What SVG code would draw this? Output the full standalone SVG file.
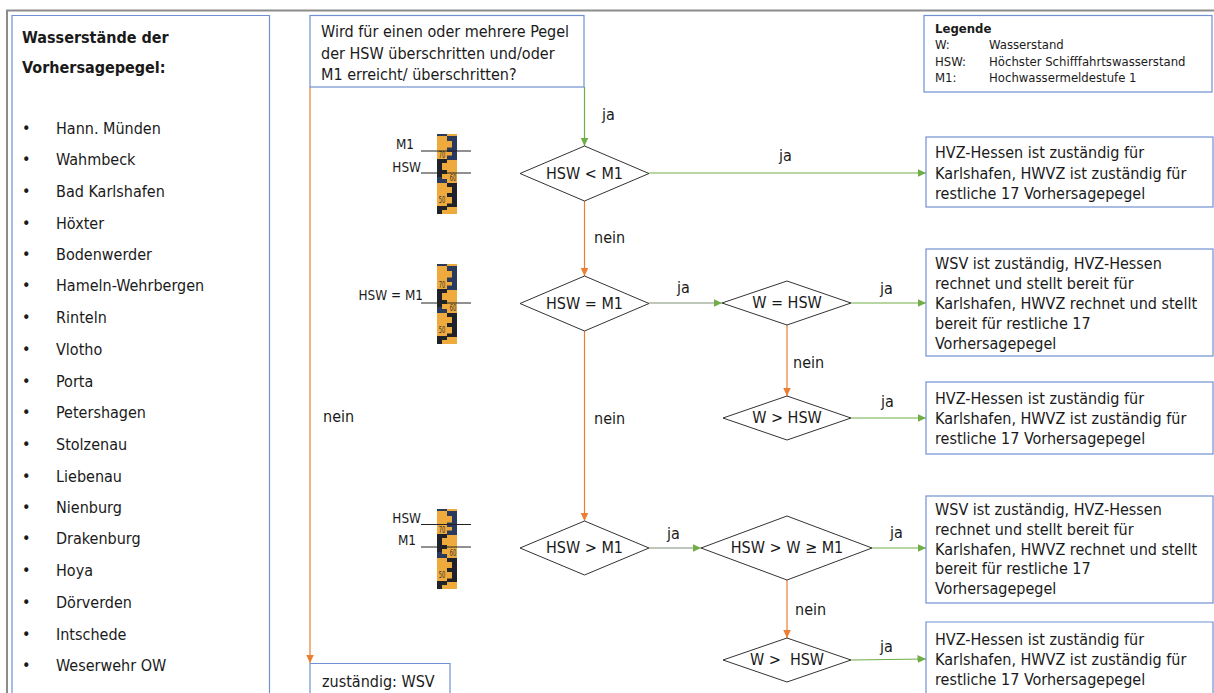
<svg xmlns="http://www.w3.org/2000/svg" width="1214" height="693" viewBox="0 0 1214 693">
<style>
text{font-family:"DejaVu Sans","Liberation Sans",sans-serif;fill:#1a1a1a;font-stretch:condensed}
.t{font-size:16px;transform:translateY(1px)}
.l{font-size:13px}
.lb{font-size:13.400px}
.b{font-weight:bold}
.box{fill:#fff;stroke:#6f90d2;stroke-width:1.2}
.dia{fill:#fff;stroke:#333;stroke-width:1}
.c{fill:none;stroke-width:1.2}
.g{stroke:#70ad47}
.o{stroke:#ed7d31}
.n{stroke:#7f8f76}
.m{text-anchor:middle}
.e{text-anchor:end}
.rule{stroke:#222;stroke-width:1}
.tick{font-size:9px;fill:#333;text-anchor:middle}
</style>
<defs>
<marker id="ag" markerUnits="userSpaceOnUse" markerWidth="9" markerHeight="9" refX="8.5" refY="4.5" orient="auto"><path d="M0,0.5L8.5,4.5L0,8.5z" fill="#70ad47"/></marker>
<marker id="ao" markerUnits="userSpaceOnUse" markerWidth="9" markerHeight="9" refX="8.5" refY="4.5" orient="auto"><path d="M0,0.5L8.5,4.5L0,8.5z" fill="#ed7d31"/></marker>
<g id="gauge">
<rect width="20" height="80" fill="#eeaa3c"/>
<path d="M0,0H10V2H0zM10,2H20V26H10V21.500H15V18H10V13.500H15V7H10z" fill="#2a3a5c"/>
<path d="M0,25H10V29H5V36H10V40H5V43H0z" fill="#1f2228"/>
<path d="M0,43H5V45H10V49H0z" fill="#2a3a5c"/>
<path d="M10,49H20V73H10V69.500H15V63H10V59H15V53H10z" fill="#1f2228"/>
<path d="M0,72H10V76H5V80H0z" fill="#1f2228"/>
<text class="tick" x="5" y="23.500" textLength="6.500" lengthAdjust="spacingAndGlyphs">70</text>
<text class="tick" x="16" y="46.500" textLength="6.500" lengthAdjust="spacingAndGlyphs">60</text>
<text class="tick" x="5" y="69" textLength="6.500" lengthAdjust="spacingAndGlyphs">50</text>
</g>
</defs>
<path d="M7,693V10.500H1214" fill="none" stroke="#8c8c8c" stroke-width="2"/>

<g id="connectors">
<path class="c g" d="M584.500,87V146" marker-end="url(#ag)"/>
<path class="c g" d="M649,173H926" marker-end="url(#ag)"/>
<path class="c n" d="M649,303H722" marker-end="url(#ag)"/>
<path class="c g" d="M851,303H926" marker-end="url(#ag)"/>
<path class="c g" d="M851,418H926" marker-end="url(#ag)"/>
<path class="c n" d="M649,548H701" marker-end="url(#ag)"/>
<path class="c g" d="M872,548H926" marker-end="url(#ag)"/>
<path class="c g" d="M851,660L926,659" marker-end="url(#ag)"/>
<path class="c o" d="M584.500,201V276" marker-end="url(#ao)"/>
<path class="c o" d="M584.500,331V521" marker-end="url(#ao)"/>
<path class="c o" d="M787,325V396" marker-end="url(#ao)"/>
<path class="c o" d="M787,580V638" marker-end="url(#ao)"/>
<path class="c o" d="M310,87V663" marker-end="url(#ao)"/>
</g>

<g id="pegel-liste">
<path class="box" d="M12,700V15.500H269.500V700"/>
<text class="b" font-size="16" x="22" y="43">Wasserstände der</text>
<text class="b" font-size="16" x="22" y="73">Vorhersagepegel:</text>
<g class="t">
<text x="22" y="133">•</text><text x="56" y="133">Hann. Münden</text>
<text x="22" y="164">•</text><text x="56" y="164">Wahmbeck</text>
<text x="22" y="196">•</text><text x="56" y="196">Bad Karlshafen</text>
<text x="22" y="228">•</text><text x="56" y="228">Höxter</text>
<text x="22" y="259">•</text><text x="56" y="259">Bodenwerder</text>
<text x="22" y="290">•</text><text x="56" y="290">Hameln-Wehrbergen</text>
<text x="22" y="322">•</text><text x="56" y="322">Rinteln</text>
<text x="22" y="354">•</text><text x="56" y="354">Vlotho</text>
<text x="22" y="386">•</text><text x="56" y="386">Porta</text>
<text x="22" y="417">•</text><text x="56" y="417">Petershagen</text>
<text x="22" y="449">•</text><text x="56" y="449">Stolzenau</text>
<text x="22" y="481">•</text><text x="56" y="481">Liebenau</text>
<text x="22" y="512">•</text><text x="56" y="512">Nienburg</text>
<text x="22" y="543">•</text><text x="56" y="543">Drakenburg</text>
<text x="22" y="575">•</text><text x="56" y="575">Hoya</text>
<text x="22" y="607">•</text><text x="56" y="607">Dörverden</text>
<text x="22" y="639">•</text><text x="56" y="639">Intschede</text>
<text x="22" y="670">•</text><text x="56" y="670">Weserwehr OW</text>
</g>
</g>

<g id="frage">
<rect class="box" x="310" y="15.500" width="274" height="71.500"/>
<text class="t" x="321" y="36">Wird für einen oder mehrere Pegel</text>
<text class="t" x="321" y="58">der HSW überschritten und/oder</text>
<text class="t" x="321" y="79">M1 erreicht/ überschritten?</text>
</g>

<g id="legende">
<rect class="box" x="924" y="15.500" width="288" height="76.500"/>
<text class="l b" x="935" y="33">Legende</text>
<text class="l" x="935" y="49">W:</text><text class="l" x="989" y="49">Wasserstand</text>
<text class="l" x="935" y="66">HSW:</text><text class="l" x="989" y="66">Höchster Schifffahrtswasserstand</text>
<text class="l" x="935" y="82">M1:</text><text class="l" x="989" y="82">Hochwassermeldestufe 1</text>
</g>

<g id="zustaendig-wsv">
<path class="box" d="M310,700V663.500H450V700"/>
<text class="t" x="322" y="686">zuständig: WSV</text>
</g>

<g id="gauge-1">
<use href="#gauge" x="437" y="134"/>
<path class="rule" d="M421,151H471M421,173H471"/>
<text class="lb e" x="414" y="149">M1</text>
<text class="lb e" x="421" y="172">HSW</text>
</g>
<g id="gauge-2">
<use href="#gauge" x="437" y="264"/>
<path class="rule" d="M421,303H471"/>
<text class="lb e" x="423" y="300">HSW = M1</text>
</g>
<g id="gauge-3">
<use href="#gauge" x="437" y="509"/>
<path class="rule" d="M421,524.500H471M421,547H471"/>
<text class="lb e" x="421" y="523">HSW</text>
<text class="lb e" x="416" y="545">M1</text>
</g>

<g id="d-hsw-lt-m1"><path class="dia" d="M584.500,146L649,173.500L584.500,201L520,173.500z"/><text class="t m" x="584.500" y="178">HSW &lt; M1</text></g>
<g id="d-hsw-eq-m1"><path class="dia" d="M584.500,276L649,303.500L584.500,331L520,303.500z"/><text class="t m" x="584.500" y="308">HSW = M1</text></g>
<g id="d-w-eq-hsw"><path class="dia" d="M787,281L851,303L787,325L722,303z"/><text class="t m" x="787" y="307">W = HSW</text></g>
<g id="d-w-gt-hsw"><path class="dia" d="M787,396L851,418L787,440L723,418z"/><text class="t m" x="787" y="422">W &gt; HSW</text></g>
<g id="d-hsw-gt-m1"><path class="dia" d="M584.500,521L649,548L584.500,575L520,548z"/><text class="t m" x="584.500" y="552">HSW &gt; M1</text></g>
<g id="d-hsw-gt-w-m1"><path class="dia" d="M787,516L872,548L787,580L701,548z"/><text class="t m" x="787" y="552">HSW &gt; W ≥ M1</text></g>
<g id="d-w-gt-hsw-2"><path class="dia" d="M787,638L851,660L787,682L723,660z"/><text class="t m" x="787" y="664" xml:space="preserve">W &gt;  HSW</text></g>

<g id="r1"><rect class="box" x="926" y="137" width="287" height="70"/>
<text class="t" x="935" y="157">HVZ-Hessen ist zuständig für</text><text class="t" x="935" y="178">Karlshafen, HWVZ ist zuständig für</text><text class="t" x="935" y="198">restliche 17 Vorhersagepegel</text></g>
<g id="r2"><rect class="box" x="926" y="249" width="287" height="107"/>
<text class="t" x="935" y="268">WSV ist zuständig, HVZ-Hessen</text><text class="t" x="935" y="288">rechnet und stellt bereit für</text><text class="t" x="935" y="308">Karlshafen, HWVZ rechnet und stellt</text><text class="t" x="935" y="328">bereit für restliche 17</text><text class="t" x="935" y="348">Vorhersagepegel</text></g>
<g id="r3"><rect class="box" x="926" y="382" width="287" height="72"/>
<text class="t" x="935" y="403">HVZ-Hessen ist zuständig für</text><text class="t" x="935" y="423">Karlshafen, HWVZ ist zuständig für</text><text class="t" x="935" y="443">restliche 17 Vorhersagepegel</text></g>
<g id="r4"><rect class="box" x="926" y="496" width="287" height="107"/>
<text class="t" x="935" y="514">WSV ist zuständig, HVZ-Hessen</text><text class="t" x="935" y="534">rechnet und stellt bereit für</text><text class="t" x="935" y="554">Karlshafen, HWVZ rechnet und stellt</text><text class="t" x="935" y="573">bereit für restliche 17</text><text class="t" x="935" y="593">Vorhersagepegel</text></g>
<g id="r5"><path class="box" d="M926,700V622H1213V700"/>
<text class="t" x="935" y="644">HVZ-Hessen ist zuständig für</text><text class="t" x="935" y="664">Karlshafen, HWVZ ist zuständig für</text><text class="t" x="935" y="684">restliche 17 Vorhersagepegel</text></g>

<g id="labels">
<text class="t" x="602" y="119">ja</text>
<text class="t" x="779" y="160">ja</text>
<text class="t" x="594" y="242">nein</text>
<text class="t" x="677" y="292">ja</text>
<text class="t" x="880" y="293">ja</text>
<text class="t" x="793" y="367">nein</text>
<text class="t" x="881" y="406">ja</text>
<text class="t" x="594" y="423">nein</text>
<text class="t" x="323" y="421">nein</text>
<text class="t" x="667" y="538">ja</text>
<text class="t" x="890" y="537">ja</text>
<text class="t" x="795" y="614">nein</text>
<text class="t" x="880" y="651">ja</text>
</g>
</svg>
